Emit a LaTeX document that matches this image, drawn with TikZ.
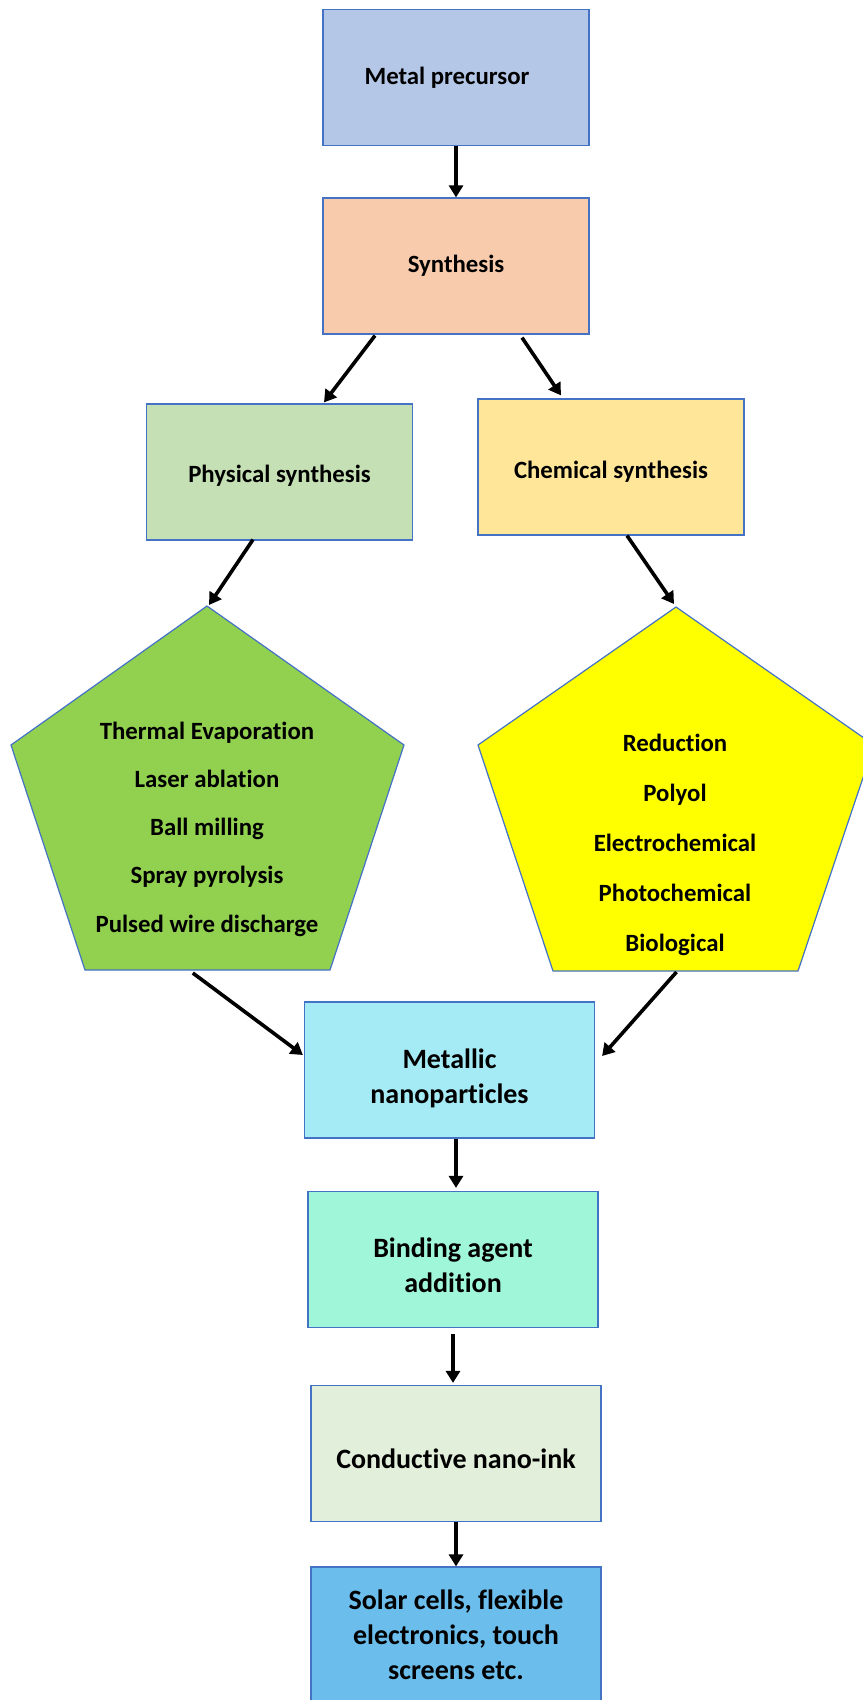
\documentclass[tikz,border=0pt]{standalone}
\usepackage{fontspec}
\setmainfont{Carlito}[Ligatures=NoCommon]
\usetikzlibrary{arrows.meta,calc}
\definecolor{edgeblue}{HTML}{4472C4}
\definecolor{precblue}{HTML}{B4C7E7}
\definecolor{synthpeach}{HTML}{F8CBAD}
\definecolor{physgreen}{HTML}{C5E0B4}
\definecolor{chemyellow}{HTML}{FFE699}
\definecolor{pentgreen}{HTML}{92D050}
\definecolor{pentyellow}{HTML}{FFFF00}
\definecolor{metalcyan}{HTML}{A5EBF5}
\definecolor{bindmint}{HTML}{A0F6D8}
\definecolor{inkgreen}{HTML}{E2EFDA}
\definecolor{solarblue}{HTML}{6BBDEC}
% pushes the text of a box a little lower
\newcommand{\dropby}[1]{\rule{0pt}{#1}}
\begin{document}
\begin{tikzpicture}[x=0.5pt,y=-0.5pt,>={Triangle[length=6pt,width=7pt]},
 box/.style={draw=edgeblue,line width=0.6pt,minimum width=133pt,minimum height=68pt,inner sep=0pt,align=center,font=\fontsize{12.4}{15}\selectfont\bfseries},
 bigbox/.style={box,minimum width=145pt,font=\fontsize{14}{17.5}\selectfont\bfseries},
 pent/.style={draw=edgeblue,line width=0.6pt},
 flow/.style={->,line width=1.8pt}]
 \useasboundingbox (0,0) rectangle (862,1700);
 % boxes
 \node[box,fill=precblue] (prec) at (456,77.5) {Metal precursor\hspace*{9pt}};
 \node[box,fill=synthpeach] (synth) at (456,266) {Synthesis};
 \node[box,fill=physgreen] (phys) at (279.5,472) {\dropby{12pt}Physical synthesis};
 \node[box,fill=chemyellow] (chem) at (611,467) {\dropby{13pt}Chemical synthesis};
 % pentagons
 \draw[pent,fill=pentgreen] (207,606) coordinate (gtop) -- (404,745) -- (330,970) coordinate (gbr)
  -- (85,970) coordinate (gbl) -- (11,745) -- cycle;
 \draw[pent,fill=pentyellow] (676,607) coordinate (ytop) -- (874,745) -- (798,971) coordinate (ybr)
  -- (553,971) coordinate (ybl) -- (478,745) -- cycle;
 \node[align=center,font=\fontsize{12.4}{24.1}\selectfont\bfseries] (glist) at (207,829)
  {Thermal Evaporation\\Laser ablation\\Ball milling\\Spray pyrolysis\\Pulsed wire discharge};
 \node[align=center,font=\fontsize{12.4}{25}\selectfont\bfseries] (ylist) at (675,845)
  {Reduction\\Polyol\\Electrochemical\\Photochemical\\Biological};
 \node[bigbox,fill=metalcyan] (metal) at (449.5,1070) {\dropby{18pt}Metallic\\nanoparticles};
 \node[bigbox,fill=bindmint] (bind) at (453,1259.5) {\dropby{16pt}Binding agent\\addition};
 \node[bigbox,fill=inkgreen] (ink) at (456,1453.5) {\dropby{15pt}Conductive nano-ink};
 \node[bigbox,fill=solarblue] (solar) at (456,1635) {Solar cells, flexible\\electronics, touch\\screens etc.};
 % arrows
 \draw[flow] (prec) -- (synth);
 \draw[flow] ($(synth.south)+(-81,1)$) -- ($(phys.north)+(44.5,-1)$);
 \draw[flow] ($(synth.south)+(66,3)$) -- ($(chem.north)+(-50,-3)$);
 \draw[flow] ($(phys.south)+(-26.5,-1)$) -- ($(gtop)+(2,-1)$);
 \draw[flow] ($(chem.south)+(16,0)$) -- ($(ytop)+(-2,-3)$);
 \draw[flow] ($(gbl)!0.44!(gbr)+(0,3)$) -- ($(metal.west)+(-1,-15)$);
 \draw[flow] ($(ybl)!0.5!(ybr)+(1,1)$) -- ($(metal.east)+(7,-14)$);
 \draw[flow] ($(metal.south)+(6.5,0)$) -- ($(bind.north)+(3,-3)$);
 \draw[flow] ($(bind.south)+(0,6)$) -- ($(ink.north)+(-3,-2)$);
 \draw[flow] (ink) -- (solar);
\end{tikzpicture}
\end{document}
